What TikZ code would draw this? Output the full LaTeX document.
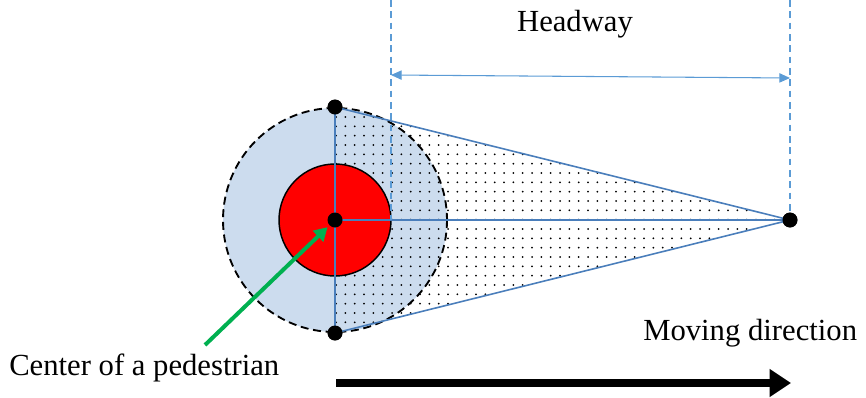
\documentclass[tikz,border=0pt]{standalone}
\usepackage{fontspec}
\setmainfont{Liberation Serif}
\usetikzlibrary{arrows.meta, patterns.meta}
\definecolor{zonebg}{HTML}{CCDCEE}
\definecolor{edgeblue}{HTML}{4A7EBB}
\definecolor{guideblue}{HTML}{5B9BD5}
\definecolor{bodyred}{HTML}{FF0000}
\definecolor{pointer}{HTML}{00B050}

\begin{document}
\begin{tikzpicture}[
    x=0.75pt, y=-0.75pt,
    >=Triangle,
    font=\fontsize{23}{27}\selectfont,
    blackdot/.style={circle, fill=black, inner sep=0pt, minimum size=11pt},
    edge_style/.style={draw=edgeblue, line width=1.2pt},
    guide_style/.style={draw=guideblue, line width=1pt, dash pattern=on 5pt off 3.5pt},
    label_style/.style={inner sep=0pt}
]
    \useasboundingbox (0,0) rectangle (866,397);

    % Key points
    \node[blackdot] (top) at (335,107) {};
    \node[blackdot] (ctr) at (335,220) {};
    \node[blackdot] (bot) at (335,333) {};
    \node[blackdot] (apex) at (790,220) {};

    % Influence zone and sight triangle
    \fill[zonebg] (335,220) circle[radius=112];
    \fill[pattern={Dots[distance=7pt, radius=0.75pt]}, pattern color=black]
        (top.center) -- (apex.center) -- (bot.center) -- cycle;

    % Pedestrian body
    \draw[fill=bodyred, line width=1.1pt] (335,220) circle[radius=56];
    \draw[line width=1.4pt, dash pattern=on 6pt off 3.5pt] (335,220) circle[radius=112];

    % Triangle edges and axes
    \draw[edge_style] (top.center) -- (apex.center) -- (bot.center);
    \draw[edge_style] (top.center) -- (bot.center);
    \draw[edge_style] (ctr.center) -- (apex.center);

    % Headway guides
    \coordinate (hw_top_l) at (391,0);
    \coordinate (hw_bot_l) at (391,220);
    \coordinate (hw_top_r) at (790,0);
    \draw[guide_style] (hw_top_l) -- (hw_bot_l);
    \draw[guide_style] (hw_top_r) -- (apex.center);
    \coordinate (hw_l) at (391,75);
    \coordinate (hw_r) at (790,78);
    \draw[guideblue, line width=0.8pt, {Triangle[length=8pt, width=7pt]}-{Triangle[length=8pt, width=7pt]}] (hw_l) -- (hw_r);
    \node[label_style] (headway) at (575,24) {Headway};

    % Re-draw points on top
    \foreach \p in {top, ctr, bot, apex}
        \fill (\p) circle[radius=7.5];

    % Pointer to the pedestrian centre
    \node[label_style, anchor=west] (centre_text) at (9,368) {Center of a pedestrian};
    \coordinate (ptr_tail) at (205,345);
    \draw[pointer, line width=3pt, -{Triangle[length=10pt, width=11pt]}, shorten >=2pt] (ptr_tail) -- (ctr);

    % Moving direction
    \node[label_style, anchor=west] (move_text) at (643,333) {Moving direction};
    \coordinate (mv_from) at (336,383);
    \coordinate (mv_to) at (791,383);
    \draw[line width=6pt, -{Triangle[length=16pt, width=20pt]}] (mv_from) -- (mv_to);

\end{tikzpicture}
\end{document}
